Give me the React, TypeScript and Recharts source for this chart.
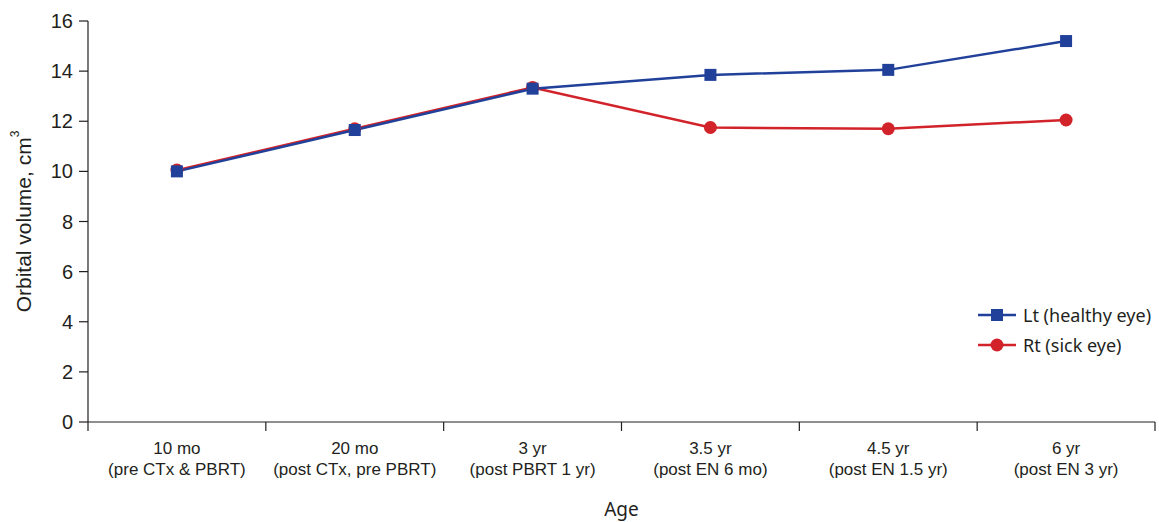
import React from 'react';
import { LineChart, Line, XAxis, YAxis } from 'recharts';

const categories = ['10 mo', '20 mo', '3 yr', '3.5 yr', '4.5 yr', '6 yr'];
const subLabels = [
  '(pre CTx & PBRT)',
  '(post CTx, pre PBRT)',
  '(post PBRT 1 yr)',
  '(post EN 6 mo)',
  '(post EN 1.5 yr)',
  '(post EN 3 yr)',
];
const ltValues = [10.0, 11.65, 13.3, 13.85, 14.05, 15.2];
const rtValues = [10.05, 11.7, 13.35, 11.75, 11.7, 12.05];
const yTicks = [0, 2, 4, 6, 8, 10, 12, 14, 16];

const BLUE = '#21409a';
const RED = '#d2232a';
const INK = '#231f20';

const W = 1159;
const H = 522;
const M = { top: 21, right: 4, left: 0, bottom: 0 };
const Y_W = 88;
const X_H = 100;
const bandW = (W - M.left - M.right - Y_W) / categories.length;

const data = categories.map((c, i) => ({
  name: c,
  lt: ltValues[i],
  rt: rtValues[i],
}));

const tickFont = '"Liberation Sans", Arial, sans-serif';
const textFont = '"Noto Sans", sans-serif';

const XTick = (props: any) => {
  const { x, y, index, payload } = props;
  const last = index === categories.length - 1;
  return (
    <g>
      <line x1={x - bandW / 2} x2={x - bandW / 2} y1={y} y2={y + 9} stroke={INK} strokeWidth={1.2} />
      {last && <line x1={x + bandW / 2} x2={x + bandW / 2} y1={y} y2={y + 9} stroke={INK} strokeWidth={1.2} />}
      <text x={x} y={y + 32} textAnchor="middle" fill={INK} fontSize={17} fontFamily={tickFont}>
        {payload.value}
      </text>
      <text x={x} y={y + 53} textAnchor="middle" fill={INK} fontSize={17} fontFamily={tickFont}>
        {subLabels[index]}
      </text>
    </g>
  );
};

const YLabel = (props: any) => {
  const vb = props.viewBox || { x: 0, y: 0, width: 0, height: 0 };
  const cx = vb.x + 23;
  const cy = vb.y + vb.height / 2;
  return (
    <text
      x={cx}
      y={cy}
      transform={`rotate(-90, ${cx}, ${cy})`}
      textAnchor="middle"
      dominantBaseline="central"
      fill={INK}
      fontSize={21}
      fontFamily={tickFont}
    >
      Orbital volume, cm<tspan fontSize={12} dy={-8}>3</tspan>
    </text>
  );
};

const SquareDot = (props: any) => {
  const { cx, cy } = props;
  if (cx == null || cy == null) return null;
  return <rect x={cx - 6} y={cy - 6} width={12} height={12} fill={BLUE} />;
};

const legendItems = [
  { label: 'Lt (healthy eye)', color: BLUE, shape: 'square' },
  { label: 'Rt (sick eye)', color: RED, shape: 'circle' },
];

const LegendBox = () => (
  <div
    style={{
      position: 'absolute',
      left: 978,
      top: 300,
      fontFamily: textFont,
      fontSize: 18,
      color: INK,
    }}
  >
    {legendItems.map((it) => (
      <div key={it.label} style={{ display: 'flex', alignItems: 'center', height: 30, whiteSpace: 'nowrap' }}>
        <svg width={38} height={14} style={{ marginRight: 7 }}>
          <line x1={0} x2={38} y1={7} y2={7} stroke={it.color} strokeWidth={2.5} />
          {it.shape === 'square' ? (
            <rect x={13} y={1} width={12} height={12} fill={it.color} />
          ) : (
            <circle cx={19} cy={7} r={6.5} fill={it.color} />
          )}
        </svg>
        <span>{it.label}</span>
      </div>
    ))}
  </div>
);

export default function App() {
  return (
    <div style={{ position: 'fixed', left: 0, top: 0, width: W, height: H, background: '#fff' }}>
      <LineChart width={W} height={H} data={data} margin={M}>
        <XAxis
          dataKey="name"
          height={X_H}
          padding={{ left: bandW / 2, right: bandW / 2 }}
          tickSize={0}
          tickMargin={0}
          tickLine={false}
          axisLine={{ stroke: INK, strokeWidth: 1.2 }}
          tick={<XTick />}
          interval={0}
          label={{
            value: 'Age',
            position: 'insideBottom',
            offset: 6,
            fill: INK,
            fontSize: 19,
            fontFamily: textFont,
          }}
        />
        <YAxis
          width={Y_W}
          domain={[0, 16]}
          ticks={yTicks}
          tickSize={9}
          tickMargin={6}
          axisLine={{ stroke: INK, strokeWidth: 1.2 }}
          tickLine={{ stroke: INK, strokeWidth: 1.2 }}
          tick={{ fill: INK, fontSize: 20, fontFamily: tickFont }}
          label={<YLabel />}
        />
        <Line
          dataKey="rt"
          name="Rt (sick eye)"
          stroke={RED}
          strokeWidth={2.5}
          dot={{ r: 6.5, fill: RED, stroke: 'none' }}
          activeDot={false}
          isAnimationActive={false}
        />
        <Line
          dataKey="lt"
          name="Lt (healthy eye)"
          stroke={BLUE}
          strokeWidth={2.5}
          dot={<SquareDot />}
          activeDot={false}
          isAnimationActive={false}
        />
      </LineChart>
      <LegendBox />
    </div>
  );
}
